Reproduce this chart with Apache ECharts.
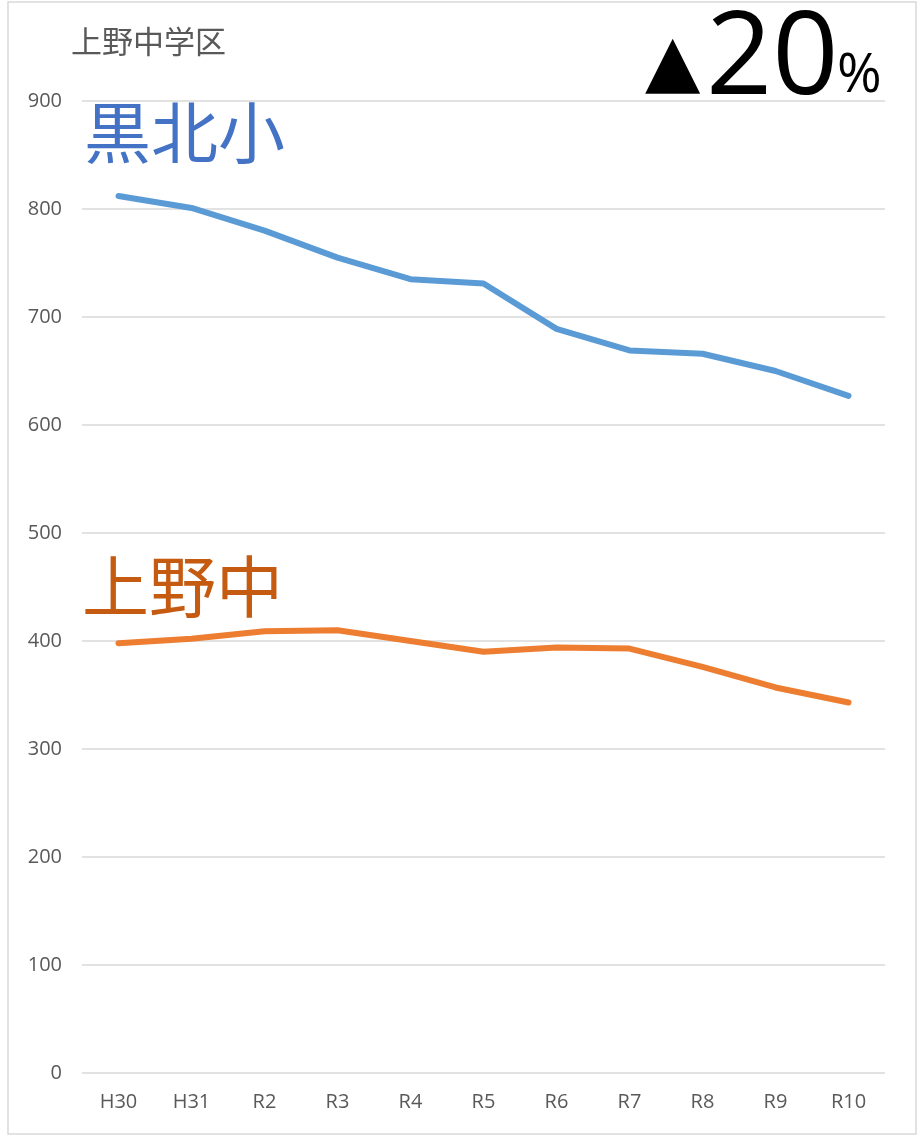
<!DOCTYPE html>
<html>
<head>
<meta charset="utf-8">
<script src="https://cdn.jsdelivr.net/npm/echarts@6/dist/echarts.min.js"></script>
<style>
html,body{margin:0;padding:0;background:#fff;}
#c{width:924px;height:1140px;}
</style>
</head>
<body>
<div id="c"></div>
<script>
const categories = ['H30','H31','R2','R3','R4','R5','R6','R7','R8','R9','R10'];
const kurokitaValues = [812, 801, 780, 755, 735, 731, 689, 669, 666, 650, 627];
const uenoValues = [398, 402, 409, 410, 400, 390, 394, 393, 376, 357, 343];
const yTicks = {min: 0, max: 900, interval: 100};

const chart = echarts.init(document.getElementById('c'));
const font = '"Open Sans", "Noto Sans", sans-serif';
const cjk = '"Noto Sans CJK JP", "Noto Sans CJK SC", sans-serif';
chart.setOption({
  animation: false,
  backgroundColor: '#fff',
  grid: {left: 82, right: 39, top: 101, bottom: 67, containLabel: false},
  xAxis: {
    type: 'category',
    data: categories,
    boundaryGap: true,
    axisLine: {show: false},
    axisTick: {show: false},
    axisLabel: {color: '#595959', fontSize: 20, fontFamily: font, margin: 19}
  },
  yAxis: {
    type: 'value',
    min: yTicks.min, max: yTicks.max, interval: yTicks.interval,
    axisLine: {show: false},
    axisTick: {show: false},
    axisLabel: {color: '#595959', fontSize: 20, fontFamily: font, margin: 20},
    splitLine: {lineStyle: {color: '#d9d9d9', width: 1.5}}
  },
  series: [
    {name: '黒北小', type: 'line', data: kurokitaValues, showSymbol: false, symbol: 'none',
     lineStyle: {color: '#5B9BD5', width: 6, cap: 'round', join: 'round'}},
    {name: '上野中', type: 'line', data: uenoValues, showSymbol: false, symbol: 'none',
     lineStyle: {color: '#ED7D31', width: 6, cap: 'round', join: 'round'}}
  ],
  graphic: [
    {type: 'rect', shape: {x: 8, y: 2, width: 908, height: 1132}, style: {fill: 'none', stroke: '#d9d9d9', lineWidth: 1.5}, silent: true, z: -1},
    {type: 'text', left: 71, top: 26, style: {text: '上野中学区', fill: '#595959', font: '31px ' + cjk}},
    {type: 'text', left: 84, top: 99, style: {text: '黒北小', fill: '#4472C4', font: '67px ' + cjk}},
    {type: 'text', left: 82, top: 553, style: {text: '上野中', fill: '#C55A11', font: '67px ' + cjk}},
    {type: 'text', left: 645, top: 30, style: {text: '▲', fill: '#000', font: '72px "DejaVu Sans", sans-serif'}},
    {type: 'text', left: 706, top: 3, style: {text: '20', fill: '#000', font: '116px ' + font}},
    {type: 'text', left: 837, top: 50, style: {text: '%', fill: '#000', font: '54px ' + font}}
  ]
});
</script>
</body>
</html>
